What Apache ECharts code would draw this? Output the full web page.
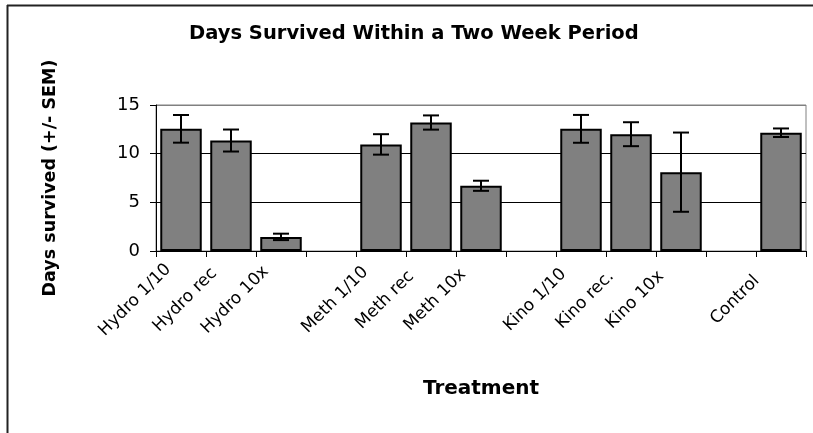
<!DOCTYPE html>
<html>
<head>
<meta charset="utf-8">
<script src="https://cdn.jsdelivr.net/npm/echarts@6/dist/echarts.min.js"></script>
<style>
html,body{margin:0;padding:0;background:#fff;}
#chart{width:813px;height:433px;}
</style>
</head>
<body>
<div id="chart"></div>
<script>
const categories = ['Hydro 1/10', 'Hydro rec', 'Hydro 10x', ' ', 'Meth 1/10', 'Meth rec', 'Meth 10x', '  ', 'Kino 1/10', 'Kino rec.', 'Kino 10x', '   ', 'Control'];
const means = [12.55, 11.35, 1.45, null, 10.95, 13.2, 6.7, null, 12.55, 12.0, 8.1, null, 12.15];
const sem = [1.42, 1.13, 0.33, null, 1.05, 0.73, 0.52, null, 1.43, 1.23, 4.07, null, 0.44];
const yTicks = [0, 5, 10, 15];

const errData = categories.map((c, i) => means[i] == null ? null : [i, means[i] - sem[i], means[i] + sem[i]]).filter(d => d);

const chart = echarts.init(document.getElementById('chart'), null, {renderer: 'canvas'});
const font = 'DejaVu Sans';
chart.setOption({
  animation: false,
  backgroundColor: '#fff',
  title: {
    text: 'Days Survived Within a Two Week Period',
    left: 184, top: 19,
    textStyle: {fontFamily: font, fontWeight: 'bold', fontSize: 19.5, color: '#000'}
  },
  grid: {left: 156, right: 7, top: 105, bottom: 182, show: true, borderColor: '#808080', borderWidth: 1, containLabel: false},
  xAxis: {
    type: 'category',
    data: categories,
    name: 'Treatment',
    nameLocation: 'middle',
    nameGap: 128,
    nameTextStyle: {fontFamily: font, fontWeight: 'bold', fontSize: 20, color: '#000'},
    axisLine: {lineStyle: {color: '#000', width: 1}},
    axisTick: {show: true, length: 6, lineStyle: {color: '#000'}, interval: 0},
    axisLabel: {interval: 0, rotate: 45, align: 'center', verticalAlign: 'middle', padding: [0, 130, 0, 0], fontFamily: font, fontSize: 17, color: '#000', margin: 3},
    splitLine: {show: false}
  },
  yAxis: {
    type: 'value',
    min: yTicks[0], max: yTicks[yTicks.length - 1], interval: 5,
    name: 'Days survived (+/- SEM)',
    nameLocation: 'middle',
    nameRotate: 90,
    nameGap: 97,
    nameTextStyle: {fontFamily: font, fontWeight: 'bold', fontSize: 17.5, color: '#000'},
    axisLine: {show: true, lineStyle: {color: '#000', width: 1}},
    axisTick: {show: true, length: 6, lineStyle: {color: '#000'}},
    axisLabel: {fontFamily: font, fontSize: 18, color: '#000', margin: 16},
    splitLine: {show: true, lineStyle: {color: ['#000', '#000', '#000', '#808080'], width: 1}}
  },
  series: [
    {
      type: 'bar',
      data: means,
      barWidth: '83%',
      itemStyle: {color: '#808080', borderColor: '#000', borderWidth: 2},
      z: 2
    },
    {
      type: 'custom',
      data: errData,
      z: 3,
      renderItem: function (params, api) {
        const x = api.value(0);
        const lo = api.coord([x, api.value(1)]);
        const hi = api.coord([x, api.value(2)]);
        const hw = 8;
        const style = {stroke: '#000', lineWidth: 2};
        return {
          type: 'group',
          children: [
            {type: 'line', shape: {x1: hi[0], y1: hi[1], x2: lo[0], y2: lo[1]}, style: style},
            {type: 'line', shape: {x1: hi[0] - hw, y1: hi[1], x2: hi[0] + hw, y2: hi[1]}, style: style},
            {type: 'line', shape: {x1: lo[0] - hw, y1: lo[1], x2: lo[0] + hw, y2: lo[1]}, style: style}
          ]
        };
      }
    }
  ],
  graphic: [
    {type: 'line', shape: {x1: 7.5, y1: 5, x2: 7.5, y2: 433}, style: {stroke: '#222', lineWidth: 2}},
    {type: 'line', shape: {x1: 7, y1: 5.5, x2: 813, y2: 5.5}, style: {stroke: '#222', lineWidth: 2}}
  ]
});
</script>
</body>
</html>
